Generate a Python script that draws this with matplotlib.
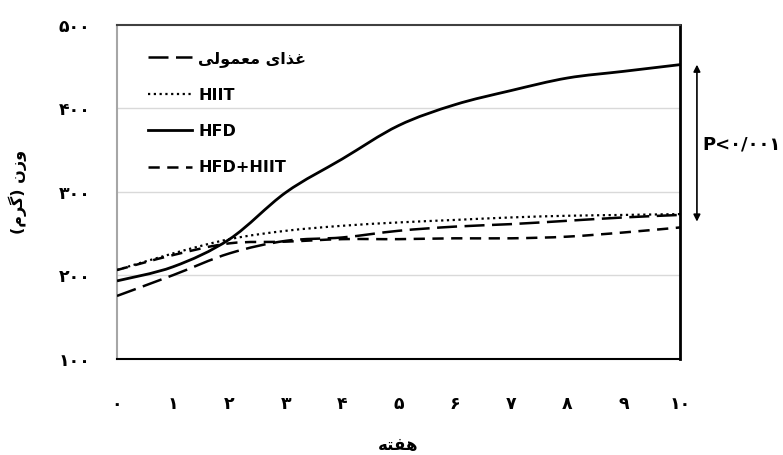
import matplotlib
matplotlib.use("Agg")
import matplotlib.pyplot as plt
from matplotlib.path import Path
from matplotlib.patches import PathPatch
from matplotlib.lines import Line2D
import matplotlib.transforms as mtransforms

plt.rcParams['font.family'] = ['DejaVu Sans']

# weekly body weight (g)
weeks = [0, 1, 2, 3, 4, 5, 6, 7, 8, 9, 10]
normal_diet = [175, 200, 226, 241, 245, 253, 258, 261, 265, 269, 272]
hiit = [206, 226, 243, 253, 259, 263, 266, 269, 271, 272, 273]
hfd = [193, 210, 243, 299, 339, 379, 404, 421, 436, 444, 452]
hfd_hiit = [206, 224, 238, 240, 243, 243, 244, 244, 246, 251, 257]

# Persian text, already in visual order with joined letter forms
label_normal = '\uFBFD\uFEDF\uFEEE\uFEE4\uFECC\uFEE3 \uFBFC\uFE8D\uFEAC\uFECF'
label_week = '\uFEEA\uFE98\uFED4\uFEEB'
label_weight = '(\uFEE1\uFEAE\uFB94) \uFEE5\uFEAF\uFEED'
p_text = 'P<۰/۰۰۱'

fa_digits = str.maketrans('0123456789', '۰۱۲۳۴۵۶۷۸۹')
y_ticks = [100, 200, 300, 400, 500]


def smooth_path(xs, ys):
    # cubic bezier through the points (Catmull-Rom style, like Excel smoothing)
    pts = list(zip(xs, ys))
    verts = [pts[0]]
    codes = [Path.MOVETO]
    n = len(pts)
    for i in range(n - 1):
        p0 = pts[i - 1] if i > 0 else pts[i]
        p1 = pts[i]
        p2 = pts[i + 1]
        p3 = pts[i + 2] if i + 2 < n else pts[i + 1]
        c1 = (p1[0] + (p2[0] - p0[0]) / 6, p1[1] + (p2[1] - p0[1]) / 6)
        c2 = (p2[0] - (p3[0] - p1[0]) / 6, p2[1] - (p3[1] - p1[1]) / 6)
        verts += [c1, c2, p2]
        codes += [Path.CURVE4] * 3
    return Path(verts, codes)


fig = plt.figure(figsize=(7.83, 4.55), dpi=100)
ax = fig.add_axes([0.1494, 0.212, 0.7191, 0.734])

series = [
    (normal_diet, dict(lw=1.8, ls=(0, (8, 3))), label_normal),
    (hiit, dict(lw=1.6, ls=(0, (1, 1.6))), 'HIIT'),
    (hfd, dict(lw=2.0, ls='-'), 'HFD'),
    (hfd_hiit, dict(lw=1.8, ls=(0, (4.5, 3))), 'HFD+HIIT'),
]

handles = []
for values, style, name in series:
    patch = PathPatch(smooth_path(weeks, values), fill=False, color='black',
                      capstyle='butt', zorder=3, **style)
    ax.add_patch(patch)
    handles.append(Line2D([], [], color='black', **style))

ax.set_xlim(0, 10)
ax.set_ylim(100, 500)
ax.set_xticks(weeks)
ax.set_xticklabels([str(w).translate(fa_digits) for w in weeks],
                   fontsize=12.5, fontweight='bold')
ax.set_yticks(y_ticks)
ax.set_yticklabels([str(v).translate(fa_digits) for v in y_ticks],
                   fontsize=12.5, fontweight='bold')
ax.tick_params(axis='x', length=0, pad=26)
ax.tick_params(axis='y', length=0, pad=19)

for v in [200, 300, 400]:
    ax.axhline(v, color='#d9d9d9', lw=1, zorder=1)

ax.spines['left'].set_color('#a6a6a6')
ax.spines['left'].set_linewidth(1.5)
ax.spines['bottom'].set_color('black')
ax.spines['bottom'].set_linewidth(1.5)
ax.spines['top'].set_color('#404040')
ax.spines['top'].set_linewidth(1.5)
ax.spines['right'].set_color('black')
ax.spines['right'].set_linewidth(2)

ax.set_xlabel(label_week, fontsize=12, fontweight='bold', labelpad=17)
ax.set_ylabel(label_weight, fontsize=11.5, fontweight='bold', labelpad=23)

leg = ax.legend(handles, [s[2] for s in series], loc='upper left',
                bbox_to_anchor=(0.055, 0.922), frameon=False,
                prop=dict(size=11.5, weight='bold'), handlelength=2.75,
                handletextpad=0.4, labelspacing=1.33, borderpad=0,
                borderaxespad=0)

# significance arrow beside the right edge
trans = mtransforms.blended_transform_factory(ax.transAxes, ax.transData)
ax.annotate('', xy=(1.03, 452), xytext=(1.03, 264), xycoords=trans,
            textcoords=trans, annotation_clip=False,
            arrowprops=dict(arrowstyle='<|-|>', color='black', lw=1.2,
                            mutation_scale=10, shrinkA=0, shrinkB=0))
ax.text(1.04, 356, p_text, transform=trans, fontsize=13, fontweight='bold',
        ha='left', va='center')

fig.savefig('out.png', dpi=100)
